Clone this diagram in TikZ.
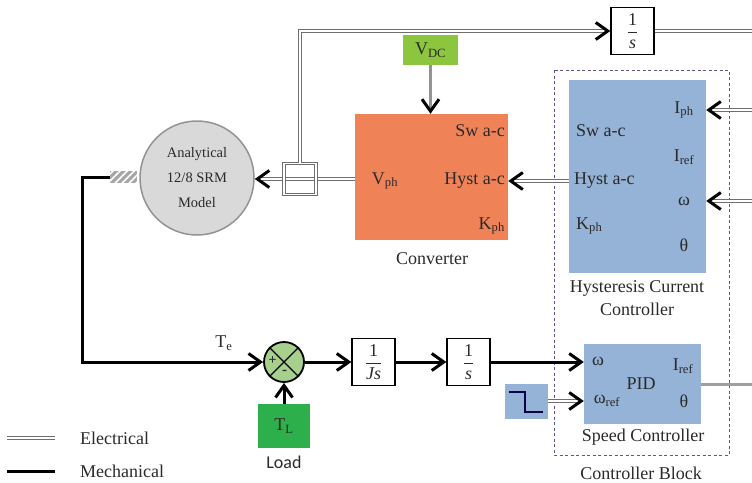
\documentclass[tikz,border=0pt]{standalone}
\usepackage{fontspec}
\setmainfont{Liberation Serif}
\newfontfamily\sansf{Carlito}
\usetikzlibrary{arrows.meta,patterns.meta}
\definecolor{convor}{HTML}{F08258}
\definecolor{ctrlblue}{HTML}{95B3D7}
\definecolor{vdcgreen}{HTML}{8CC63F}
\definecolor{tlgreen}{HTML}{2DB04B}
\definecolor{sumgreen}{HTML}{A8D08D}
\definecolor{motorgray}{HTML}{D9D9D9}
\definecolor{elecgray}{HTML}{6E6E6E}
\definecolor{txt}{HTML}{2A2A2A}
\begin{document}
\begin{tikzpicture}[x=1pt,y=-1pt,
  every node/.style={font=\fontsize{18}{21}\selectfont, text=txt},
  blk/.style={draw=black, line width=1.3pt, fill=white, minimum width=43pt, minimum height=47pt, inner sep=0pt},
  elec/.style={draw=elecgray, line width=0.8pt, double=white, double distance=1.6pt},
  mech/.style={draw=black, line width=3pt},
  chev/.style={-{Straight Barb[length=12pt,width=17pt,line width=3pt,color=black]}},
  lbl/.style={inner sep=0pt},
]
\path[use as bounding box] (0,0) rectangle (752,482);

% controller block frame
\draw[draw=elecgray!80!blue, line width=0.9pt, dash pattern=on 3pt off 2.5pt] (554,70) rectangle (729,455);

% blocks
\node[fill=convor, minimum width=153pt, minimum height=126pt, inner sep=0pt] (conv) at (431.5,177) {};
\node[fill=ctrlblue, minimum width=137pt, minimum height=193pt, inner sep=0pt] (hyst) at (637.5,176.5) {};
\node[fill=ctrlblue, minimum width=117pt, minimum height=80pt, inner sep=0pt] (speed) at (642.5,384) {};
\node[fill=vdcgreen, minimum width=55pt, minimum height=30pt, inner sep=0pt] (vdc) at (430.5,50) {V\textsubscript{DC}};
\node[blk] (int1) at (632.5,31) {$\displaystyle\frac{\mbox{1}}{\mbox{\itshape s}}$};
\node[circle, draw=gray!85, line width=1.5pt, fill=motorgray, minimum size=114pt, inner sep=0pt, align=center,
      font=\fontsize{14.5}{25}\selectfont] (motor) at (197,178) {Analytical\\12/8 SRM\\Model};
\node[fill=gray!70, minimum width=27pt, minimum height=12pt, inner sep=0pt,
      postaction={pattern={Lines[angle=45,distance=5pt,line width=1.6pt]}, pattern color=white}] (shaft) at (123.5,177) {};
\node[circle, draw=black, line width=1.8pt, fill=sumgreen, minimum size=40pt, inner sep=0pt] (sum) at (284,362) {};
\node[fill=tlgreen, minimum width=52pt, minimum height=44pt, inner sep=0pt] (tl) at (284,426) {T\textsubscript{L}};
\node[blk] (js) at (373.5,362) {$\displaystyle\frac{\mbox{1}}{\mbox{\itshape Js}}$};
\node[blk] (int2) at (468.5,362) {$\displaystyle\frac{\mbox{1}}{\mbox{\itshape s}}$};
\node[fill=ctrlblue, minimum width=43pt, minimum height=35pt, inner sep=0pt] (step) at (526,401) {};

% sum junction details
\draw[line width=1.4pt] (sum.north west) -- (sum.south east) (sum.north east) -- (sum.south west);
\node[lbl, font=\bfseries\fontsize{14}{14}\selectfont] (plus) at (272.5,361) {+};
\node[lbl, font=\bfseries\fontsize{15}{15}\selectfont] (minus) at (284.5,372) {-};

% step symbol
\draw[draw=black!70!blue, line width=1.4pt] (509,392) -- (525,392) -- (525,412) -- (543,412);

% converter texts
\node[lbl, anchor=east] (cswac) at (505,131) {Sw a-c};
\node[lbl] (cvph) at (385,181) {V\textsubscript{ph}};
\node[lbl, anchor=east] (chyst) at (505,181) {Hyst a-c};
\node[lbl, anchor=east] (ckph) at (505,226) {K\textsubscript{ph}};
\node[lbl] (convlab) at (432,259) {Converter};

% hysteresis texts
\node[lbl, anchor=west] (hswac) at (576,131) {Sw a-c};
\node[lbl, anchor=west] (hhyst) at (574,181) {Hyst a-c};
\node[lbl, anchor=west] (hkph) at (576,226) {K\textsubscript{ph}};
\node[lbl] (hiph) at (684,110) {I\textsubscript{ph}};
\node[lbl] (hiref) at (684,157) {I\textsubscript{ref}};
\node[lbl] (hom) at (684,201) {ω};
\node[lbl] (hth) at (684,245) {θ};
\node[lbl, align=center, font=\fontsize{18}{23}\selectfont] (hystlab) at (637,298) {Hysteresis Current\\Controller};

% speed controller texts
\node[lbl] (som) at (598,361) {ω};
\node[lbl] (somref) at (607,401) {ω\textsubscript{ref}};
\node[lbl] (spid) at (641,384) {PID};
\node[lbl] (siref) at (683,366) {I\textsubscript{ref}};
\node[lbl] (sth) at (684,401) {θ};
\node[lbl] (speedlab) at (643,437) {Speed Controller};
\node[lbl] (ctrllab) at (641,473) {Controller Block};

\node[lbl] (te) at (224,343) {T\textsubscript{e}};
\node[lbl, font=\sansf\fontsize{18}{21}\selectfont] (load) at (284,462) {Load};

% coordinates at the right edge
\coordinate (rtop) at (752,31);
\coordinate (riph) at (752,110);
\coordinate (rom) at (752,201);
\coordinate (rout) at (752,384);
\coordinate (hy) at (0,181);
\coordinate (my) at (0,179);

% electrical connections
\draw[elec, chev] (conv.west |- my) -- (motor.east |- my);
\node[draw=elecgray, line width=0.8pt, double=white, double distance=1.6pt, minimum width=32pt, minimum height=31pt, inner sep=0pt] (sq) at (300,179) {};
\draw[elec, chev] (sq.north) |- (int1.west);
\draw[elec] (int1.east) -- (rtop);
\draw[elec, chev] (hyst.west |- hy) -- (conv.east |- hy);
\draw[elec, chev] (riph) -- (hyst.east |- riph);
\draw[elec, chev] (rom) -- (hyst.east |- rom);
\draw[elec, chev] (step.east) -- (speed.west |- step.east);
\draw[draw=gray!85, line width=2.6pt, chev] (vdc.south) -- (conv.north -| vdc.south);
\draw[draw=gray!75, line width=3pt] (speed.east) -- (rout);

% mechanical connections
\draw[mech, chev] (shaft.west) -- ++(-27,0) |- (sum.west);
\draw[mech, chev] (sum.east) -- (js.west);
\draw[mech, chev] (js.east) -- (int2.west);
\draw[mech, chev] (int2.east) -- (speed.west |- int2.east);
\draw[mech, chev] (tl.north) -- (sum.south);

% legend
\coordinate (le1) at (7,438); \coordinate (le2) at (55,438);
\coordinate (lm1) at (7,471); \coordinate (lm2) at (55,471);
\draw[elec] (le1) -- (le2);
\draw[mech] (lm1) -- (lm2);
\node[lbl, anchor=west] (elab) at (80,438) {Electrical};
\node[lbl, anchor=west] (mlab) at (80,471) {Mechanical};
\end{tikzpicture}
\end{document}
